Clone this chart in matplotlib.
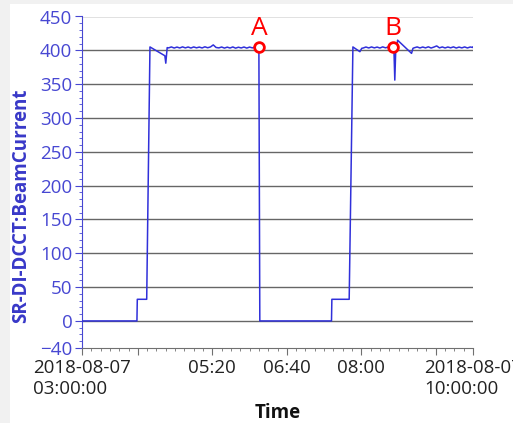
import numpy as np
import matplotlib
matplotlib.use('Agg')
import matplotlib.pyplot as plt
from matplotlib.patches import Rectangle
from matplotlib.ticker import MultipleLocator

plt.rcParams['font.family'] = 'Open Sans'

# beam current, time in minutes after 2018-08-07 03:00:00
fill1_t = [0, 59, 59.4, 69.5, 73, 89, 90, 91.5]
fill1_v = [0, 0, 32, 32, 405, 392, 381, 404]
topup1 = [403.6, 405.0, 403.4, 404.8, 403.5, 405.1, 403.6, 404.9, 403.4, 405.0,
          403.7, 404.8, 403.5, 405.2, 403.8, 405.0, 408.0, 404.2, 403.6, 404.9,
          403.3, 404.7, 403.4, 405.0, 403.2, 404.6, 403.5, 404.9, 403.3, 404.8,
          403.6, 405.0, 404.6]
dump_t = [190, 191, 268, 268.4, 287, 291, 298.5, 300.5]
dump_v = [405, 0, 0, 32, 32, 405, 398, 403]
topup2 = [403.4, 404.9, 403.5, 405.0, 403.6, 404.8, 403.4, 405.1, 403.7, 404.9, 405.0]
trip_t = [333.7, 335, 336, 337, 338, 339, 354, 355.5]
trip_v = [405, 404, 356, 400, 402, 415, 395.5, 403]
topup3 = [403.8, 405.0, 403.5, 404.9, 403.6, 405.2, 403.4, 404.8, 406.5, 403.6,
          405.0, 403.5, 404.9, 403.7, 405.1, 403.4, 404.8, 403.6, 405.0, 403.5,
          404.9, 404.2]

events = ['A', 'B']
event_t = [190, 333.7]
event_v = [405, 405]

tick_pos = [0, 140, 220, 300, 420]
tick_lab = ['2018-08-07\n03:00:00', '05:20', '06:40', '08:00', '2018-08-07\n10:00:00']

t = np.concatenate([fill1_t, 93 + 3 * np.arange(len(topup1)),
                    dump_t, 302 + 3 * np.arange(len(topup2)),
                    trip_t, 357 + 3 * np.arange(len(topup3)), [420]])
v = np.concatenate([fill1_v, topup1, dump_v, topup2, trip_v, topup3, [404.5]])

blue = '#3030da'
lblue = '#4747d2'

fig = plt.figure(figsize=(5.13, 4.23), dpi=100, facecolor='#f1f1f1')
fig.patches.append(Rectangle((10 / 513, 0), 1, 1 - 4 / 423, transform=fig.transFigure,
                             facecolor='white', edgecolor='none', zorder=-5))
ax = fig.add_axes([82 / 513, 1 - 348 / 423, 391 / 513, 331.5 / 423])
ax.set_facecolor('white')

ax.plot(t, v, color=blue, lw=1.1, zorder=3)

ax.set_xlim(0, 420)
ax.set_ylim(-40, 450)
ax.set_yticks([-40] + list(range(0, 451, 50)))
ax.yaxis.set_minor_locator(MultipleLocator(10))
ax.set_xticks(tick_pos + [60, 380])
ax.set_xticklabels(tick_lab + ['', ''], multialignment='left')
ax.xaxis.set_minor_locator(MultipleLocator(10))

for yv in range(0, 451, 50):
    ax.axhline(yv, color='#666666', lw=1.0, zorder=1)

for s in ['top', 'right']:
    ax.spines[s].set_visible(False)
ax.spines['left'].set_color(lblue)
ax.spines['bottom'].set_color('#707070')

ax.tick_params(axis='y', which='major', colors=lblue, labelsize=13.5, length=5, pad=2)
ax.tick_params(axis='y', which='minor', colors=lblue, length=2.5)
ax.tick_params(axis='x', which='major', colors='#707070', labelcolor='#222222',
               labelsize=13.5, length=5, pad=3)
ax.tick_params(axis='x', which='minor', colors='#707070', length=2.5)

ax.set_ylabel('SR-DI-DCCT:BeamCurrent', color='#3838c8', fontsize=13.5,
              fontweight='bold')
ax.yaxis.set_label_coords(-0.13, 0.43)
ax.set_xlabel('Time', color='#111111', fontsize=13.5, fontweight='bold', labelpad=4)

for name, et, ev in zip(events, event_t, event_v):
    ax.plot(et, ev, 'o', ms=7, mfc='white', mec='red', mew=2, zorder=4, clip_on=False)
    ax.text(et, ev + 18, name, color='red', fontsize=19, ha='center', va='baseline',
            clip_on=False)

fig.savefig('out.png', dpi=100, facecolor=fig.get_facecolor())
